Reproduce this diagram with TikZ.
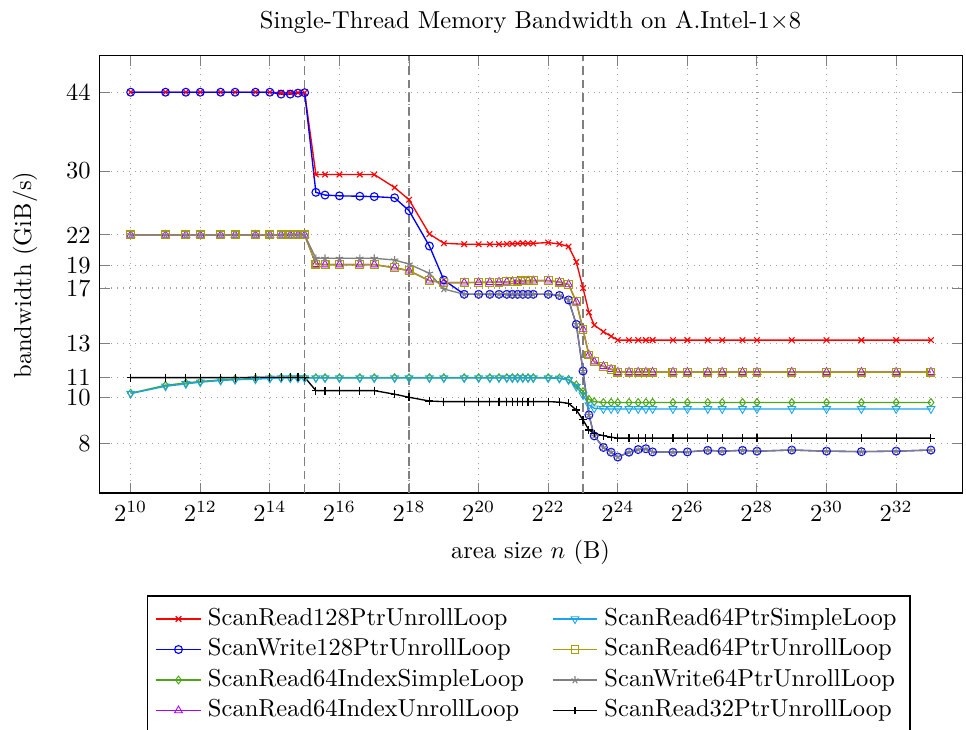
\documentclass[tikz,border=0pt]{standalone}
\usepackage{pgfplots}
\pgfplotsset{compat=1.18}
\usetikzlibrary{plotmarks}

\definecolor{serGreen}{RGB}{77,166,25}
\definecolor{serCyan}{RGB}{25,165,235}
\definecolor{serViolet}{RGB}{170,0,255}
\definecolor{serOlive}{RGB}{165,160,0}

\tikzset{
  serbase/.style={line width=0.55pt, mark size=1.6pt},
  plotR/.style={serbase, color=red, mark=x, mark options={line width=0.45pt}},
  plotB/.style={serbase, color=blue, mark=o, mark options={line width=0.45pt}},
  plotG/.style={serbase, color=serGreen, mark=diamond, mark options={line width=0.4pt}},
  plotV/.style={serbase, color=serViolet, mark=triangle, mark size=1.85pt, mark options={line width=0.35pt}},
  plotC/.style={serbase, color=serCyan, mark=triangle, mark size=1.85pt, mark options={rotate=180, line width=0.35pt}},
  plotO/.style={serbase, color=serOlive, mark=square, mark options={line width=0.45pt}},
  plotS/.style={serbase, color=gray, mark=star, mark options={line width=0.45pt}},
  plotK/.style={serbase, color=black, mark=+, mark options={line width=0.45pt}},
  cachebound/.style={gray, line width=0.6pt, dash pattern=on 3.5pt off 2pt},
  legtext/.style={anchor=west, inner sep=0pt},
}

% log2(size)  read128  write128  idxSimple  idxUnroll  ptrSimple  ptrUnroll64  write64  read32
\pgfplotstableread{
l r b g v c o s k
10     44    44    10.20 22    10.18 22    22    11.0
11     44    44    10.60 22    10.55 22    22    11.0
11.585 44    44    10.72 22    10.67 22    22    11.0
12     44    44    10.80 22    10.76 22    22    11.0
12.585 44    44    10.88 22    10.85 22    22    11.0
13     44    44    10.92 22    10.89 22    22    11.0
13.585 44    44    10.95 22    10.92 22    22    11.02
14     44    44    10.98 22    10.96 22    22    11.02
14.322 43.9  43.6  11.0  22    10.98 22    22    11.02
14.585 43.9  43.6  11.0  22    10.98 22    22    11.02
14.807 43.9  43.8  11.0  22    10.98 22    22    11.02
15     43.9  43.9  11.0  22    10.98 22    22    11.02
15.322 29.5  27.06 11.0  19.1  10.98 19.1  19.64 10.33
15.585 29.5  26.7  11.0  19.05 10.98 19.05 19.64 10.33
16     29.5  26.6  11.0  19.05 10.98 19.05 19.64 10.33
16.585 29.5  26.55 11.0  19.05 10.98 19.05 19.64 10.33
17     29.5  26.5  11.0  19.05 10.98 19.05 19.64 10.33
17.585 27.7  26.35 11.0  18.76 10.98 18.76 19.48 10.15
18     26.1  24.75 11.0  18.49 10.98 18.49 19.1  10.0
18.585 22.1  20.85 11.0  17.62 10.98 17.62 18.26 9.82
19     21.13 17.68 11.0  17.45 10.98 17.45 16.92 9.79
19.585 21.03 16.49 11.0  17.45 10.98 17.45 16.49 9.79
20     21.03 16.49 11.0  17.47 10.98 17.47 16.49 9.79
20.322 21.03 16.49 11.0  17.48 10.98 17.48 16.49 9.79
20.585 21.03 16.49 11.0  17.50 10.98 17.50 16.49 9.79
20.81  21.05 16.49 11.0  17.52 10.98 17.52 16.49 9.79
20.97  21.07 16.49 11.0  17.55 10.98 17.55 16.49 9.79
21.12  21.10 16.49 11.0  17.58 10.98 17.58 16.49 9.79
21.27  21.12 16.49 11.0  17.60 10.98 17.60 16.49 9.79
21.42  21.12 16.49 11.0  17.62 10.98 17.62 16.49 9.79
21.57  21.12 16.49 11.0  17.62 10.98 17.62 16.49 9.79
22     21.2  16.49 11.0  17.62 10.98 17.62 16.49 9.79
22.322 21.05 16.4  10.98 17.5  10.96 17.5  16.4  9.77
22.585 20.8  16.04 10.91 17.3  10.88 17.3  16.04 9.71
22.807 19.3  14.25 10.62 15.9  10.53 15.9  14.25 9.4
23     17.0  11.36 10.28 13.9  10.11 13.9  11.36 8.96
23.17  15.1  9.18  9.9   12.28 9.63  12.28 9.18  8.53
23.322 14.2  8.29  9.79  11.89 9.48  11.89 8.29  8.39
23.585 13.75 7.84  9.75  11.62 9.45  11.62 7.84  8.3
23.807 13.45 7.66  9.75  11.46 9.45  11.46 7.66  8.24
24     13.2  7.48  9.75  11.3  9.45  11.3  7.48  8.2
24.322 13.2  7.66  9.75  11.3  9.45  11.3  7.66  8.2
24.585 13.2  7.76  9.75  11.3  9.45  11.3  7.76  8.2
24.807 13.2  7.79  9.75  11.3  9.45  11.3  7.79  8.2
25     13.2  7.67  9.75  11.3  9.45  11.3  7.67  8.2
25.585 13.2  7.66  9.75  11.3  9.45  11.3  7.66  8.2
26     13.2  7.67  9.75  11.3  9.45  11.3  7.67  8.2
26.585 13.2  7.73  9.75  11.3  9.45  11.3  7.73  8.2
27     13.2  7.7   9.75  11.3  9.45  11.3  7.7   8.2
27.585 13.2  7.73  9.75  11.3  9.45  11.3  7.73  8.2
28     13.2  7.7   9.75  11.3  9.45  11.3  7.7   8.2
29     13.2  7.74  9.75  11.3  9.45  11.3  7.74  8.2
30     13.2  7.7   9.75  11.3  9.45  11.3  7.7   8.2
31     13.2  7.68  9.75  11.3  9.45  11.3  7.68  8.2
32     13.2  7.7   9.75  11.3  9.45  11.3  7.7   8.2
33     13.2  7.74  9.75  11.3  9.45  11.3  7.74  8.2
}\bwdata

\begin{document}
\begin{tikzpicture}
\useasboundingbox (0,0) rectangle (394.03pt,297.36pt);

\begin{axis}[
  name=bwaxis,
  at={(40.50pt,96.27pt)}, anchor=south west,
  scale only axis, width=352.0pt, height=178.4pt,
  xmin=9.097, xmax=33.9,
  ymode=log, ymin=6.283, ymax=52.56,
  xtick={10,12,...,32},
  xticklabel={$2^{\pgfmathprintnumber{\tick}}$},
  ytick={8,10,11,13,17,19,22,30,44},
  yticklabels={8,10,11,13,17,19,22,30,44},
  yminorticks=false,
  grid=major,
  major grid style={gray!75, dotted, line width=0.45pt},
  tick style={gray, line width=0.4pt},
  axis line style={black, line width=0.5pt},
]
  % cache boundaries
  \addplot[cachebound] coordinates {(15,6.283) (15,52.56)};
  \addplot[cachebound] coordinates {(18,6.283) (18,52.56)};
  \addplot[cachebound] coordinates {(23,6.283) (23,52.56)};

  \addplot[plotR] table[x=l,y=r] {\bwdata};
  \addplot[plotB] table[x=l,y=b] {\bwdata};
  \addplot[plotG] table[x=l,y=g] {\bwdata};
  \addplot[plotV] table[x=l,y=v] {\bwdata};
  \addplot[plotC] table[x=l,y=c] {\bwdata};
  \addplot[plotO] table[x=l,y=o] {\bwdata};
  \addplot[plotS] table[x=l,y=s] {\bwdata};
  \addplot[plotK] table[x=l,y=k] {\bwdata};
\end{axis}

\begin{scope}[x=0.4079pt, y=0.4079pt]
  \node (title) at (530.5,707) {Single-Thread Memory Bandwidth on A.Intel-1$\times$8};
  \node[rotate=90] (ylab) at (25,454) {bandwidth (GiB/s)};
  \node (xlab) at (530.5,177) {area size $n$ (B)};

  % legend
  \draw[black, line width=0.5pt] (147.3,133) rectangle (910,-40);

  \draw[plotR] (156,110) -- (201,110);
  \draw[plotR] plot[only marks] coordinates {(178.5,110)};
  \node[legtext] (legR) at (207.5,110) {ScanRead128PtrUnrollLoop};

  \draw[plotB] (156,79.5) -- (201,79.5);
  \draw[plotB] plot[only marks] coordinates {(178.5,79.5)};
  \node[legtext] (legB) at (207.5,79.5) {ScanWrite128PtrUnrollLoop};

  \draw[plotG] (156,49) -- (201,49);
  \draw[plotG] plot[only marks] coordinates {(178.5,49)};
  \node[legtext] (legG) at (207.5,49) {ScanRead64IndexSimpleLoop};

  \draw[plotV] (156,18.5) -- (201,18.5);
  \draw[plotV] plot[only marks] coordinates {(178.5,18.5)};
  \node[legtext] (legV) at (207.5,18.5) {ScanRead64IndexUnrollLoop};

  \draw[plotC] (552.7,110) -- (597.3,110);
  \draw[plotC] plot[only marks] coordinates {(575,110)};
  \node[legtext] (legC) at (604,110) {ScanRead64PtrSimpleLoop};

  \draw[plotO] (552.7,79.5) -- (597.3,79.5);
  \draw[plotO] plot[only marks] coordinates {(575,79.5)};
  \node[legtext] (legO) at (604,79.5) {ScanRead64PtrUnrollLoop};

  \draw[plotS] (552.7,49) -- (597.3,49);
  \draw[plotS] plot[only marks] coordinates {(575,49)};
  \node[legtext] (legS) at (604,49) {ScanWrite64PtrUnrollLoop};

  \draw[plotK] (552.7,18.5) -- (597.3,18.5);
  \draw[plotK] plot[only marks] coordinates {(575,18.5)};
  \node[legtext] (legK) at (604,18.5) {ScanRead32PtrUnrollLoop};
\end{scope}
\end{tikzpicture}
\end{document}
